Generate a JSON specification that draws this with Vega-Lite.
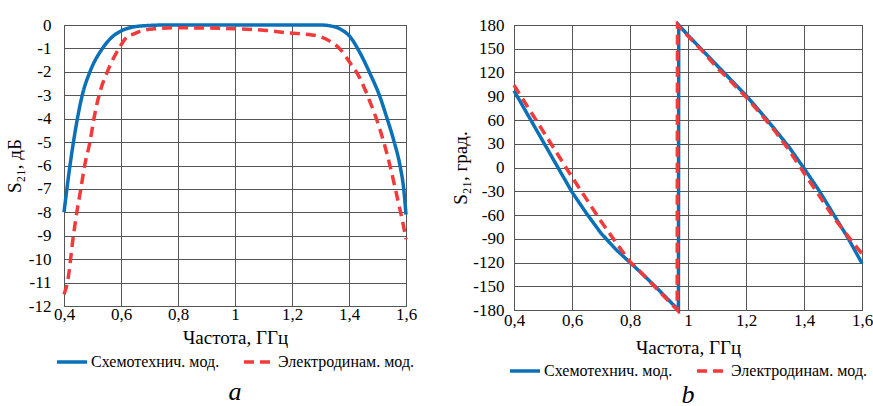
{
  "$schema": "https://vega.github.io/schema/vega-lite/v6.json",
  "background": "white",
  "padding": {"left": 4, "top": 15, "right": 0, "bottom": 0},
  "config": {
    "font": "Liberation Serif, Times New Roman, DejaVu Serif, serif",
    "view": {"stroke": "#555", "strokeWidth": 1},
    "axis": {"gridColor": "#555", "gridOpacity": 1, "domainColor": "#555", "ticks": false, "tickSize": 0, "labelFlush": false, "labelColor": "#000", "titleColor": "#000", "labelFontSize": 17, "titleFontSize": 19, "titleFontWeight": "normal", "labelFont": "Liberation Serif, Times New Roman, DejaVu Serif, serif", "titleFont": "Liberation Serif, Times New Roman, DejaVu Serif, serif"},
    "legend": {"orient": "bottom", "direction": "horizontal", "title": null, "offset": 0, "padding": 0, "labelFontSize": 16, "labelColor": "#000", "labelFont": "Liberation Serif, Times New Roman, DejaVu Serif, serif", "symbolType": "stroke", "symbolStrokeWidth": 3.5, "symbolSize": 900, "columnPadding": 17, "labelOffset": 2, "layout": {"bottom": {"anchor": "middle"}}},
    "title": {"orient": "bottom", "fontSize": 26, "offset": 7, "fontStyle": "italic", "fontWeight": "normal", "font": "Liberation Serif, Times New Roman, DejaVu Serif, serif", "color": "#000"}
  },
  "datasets": {
    "mag": [
      {"s": "Схемотехнич. мод.", "f": 0.40, "v": -8.0},
      {"s": "Схемотехнич. мод.", "f": 0.421, "v": -6.0},
      {"s": "Схемотехнич. мод.", "f": 0.447, "v": -4.0},
      {"s": "Схемотехнич. мод.", "f": 0.464, "v": -3.0},
      {"s": "Схемотехнич. мод.", "f": 0.491, "v": -2.0},
      {"s": "Схемотехнич. мод.", "f": 0.535, "v": -1.0},
      {"s": "Схемотехнич. мод.", "f": 0.57, "v": -0.5},
      {"s": "Схемотехнич. мод.", "f": 0.61, "v": -0.2},
      {"s": "Схемотехнич. мод.", "f": 0.65, "v": -0.07},
      {"s": "Схемотехнич. мод.", "f": 0.70, "v": -0.02},
      {"s": "Схемотехнич. мод.", "f": 0.75, "v": 0},
      {"s": "Схемотехнич. мод.", "f": 1.30, "v": 0},
      {"s": "Схемотехнич. мод.", "f": 1.35, "v": -0.08},
      {"s": "Схемотехнич. мод.", "f": 1.38, "v": -0.25},
      {"s": "Схемотехнич. мод.", "f": 1.40, "v": -0.45},
      {"s": "Схемотехнич. мод.", "f": 1.439, "v": -1.2},
      {"s": "Схемотехнич. мод.", "f": 1.474, "v": -2.08},
      {"s": "Схемотехнич. мод.", "f": 1.509, "v": -3.08},
      {"s": "Схемотехнич. мод.", "f": 1.532, "v": -3.93},
      {"s": "Схемотехнич. мод.", "f": 1.557, "v": -4.93},
      {"s": "Схемотехнич. мод.", "f": 1.58, "v": -6.07},
      {"s": "Схемотехнич. мод.", "f": 1.592, "v": -7.0},
      {"s": "Схемотехнич. мод.", "f": 1.60, "v": -8.1},
      {"s": "Электродинам. мод.", "f": 0.40, "v": -11.5},
      {"s": "Электродинам. мод.", "f": 0.412, "v": -11.0},
      {"s": "Электродинам. мод.", "f": 0.433, "v": -9.0},
      {"s": "Электродинам. мод.", "f": 0.445, "v": -8.0},
      {"s": "Электродинам. мод.", "f": 0.459, "v": -7.0},
      {"s": "Электродинам. мод.", "f": 0.4725, "v": -6.0},
      {"s": "Электродинам. мод.", "f": 0.491, "v": -5.0},
      {"s": "Электродинам. мод.", "f": 0.505, "v": -4.0},
      {"s": "Электродинам. мод.", "f": 0.523, "v": -3.0},
      {"s": "Электродинам. мод.", "f": 0.552, "v": -2.0},
      {"s": "Электродинам. мод.", "f": 0.593, "v": -1.0},
      {"s": "Электродинам. мод.", "f": 0.622, "v": -0.5},
      {"s": "Электродинам. мод.", "f": 0.645, "v": -0.38},
      {"s": "Электродинам. мод.", "f": 0.67, "v": -0.25},
      {"s": "Электродинам. мод.", "f": 0.72, "v": -0.16},
      {"s": "Электродинам. мод.", "f": 0.80, "v": -0.12},
      {"s": "Электродинам. мод.", "f": 0.90, "v": -0.13},
      {"s": "Электродинам. мод.", "f": 1.00, "v": -0.16},
      {"s": "Электродинам. мод.", "f": 1.10, "v": -0.22},
      {"s": "Электродинам. мод.", "f": 1.19, "v": -0.34},
      {"s": "Электродинам. мод.", "f": 1.26, "v": -0.41},
      {"s": "Электродинам. мод.", "f": 1.30, "v": -0.5},
      {"s": "Электродинам. мод.", "f": 1.334, "v": -0.7},
      {"s": "Электродинам. мод.", "f": 1.37, "v": -1.05},
      {"s": "Электродинам. мод.", "f": 1.40, "v": -1.55},
      {"s": "Электродинам. мод.", "f": 1.439, "v": -2.29},
      {"s": "Электродинам. мод.", "f": 1.474, "v": -3.29},
      {"s": "Электродинам. мод.", "f": 1.498, "v": -4.07},
      {"s": "Электродинам. мод.", "f": 1.522, "v": -5.0},
      {"s": "Электродинам. мод.", "f": 1.545, "v": -6.07},
      {"s": "Электродинам. мод.", "f": 1.569, "v": -7.35},
      {"s": "Электродинам. мод.", "f": 1.592, "v": -8.63},
      {"s": "Электродинам. мод.", "f": 1.60, "v": -9.15}
    ],
    "phase": [
      {"s": "Схемотехнич. мод.", "f": 0.40, "v": 97},
      {"s": "Схемотехнич. мод.", "f": 0.45, "v": 65},
      {"s": "Схемотехнич. мод.", "f": 0.50, "v": 33},
      {"s": "Схемотехнич. мод.", "f": 0.55, "v": 1},
      {"s": "Схемотехнич. мод.", "f": 0.60, "v": -31},
      {"s": "Схемотехнич. мод.", "f": 0.65, "v": -58},
      {"s": "Схемотехнич. мод.", "f": 0.70, "v": -83},
      {"s": "Схемотехнич. мод.", "f": 0.75, "v": -103},
      {"s": "Схемотехнич. мод.", "f": 0.80, "v": -120},
      {"s": "Схемотехнич. мод.", "f": 0.85, "v": -137},
      {"s": "Схемотехнич. мод.", "f": 0.90, "v": -155},
      {"s": "Схемотехнич. мод.", "f": 0.967, "v": -180},
      {"s": "Схемотехнич. мод.", "f": 0.968, "v": 180},
      {"s": "Схемотехнич. мод.", "f": 1.00, "v": 167},
      {"s": "Схемотехнич. мод.", "f": 1.05, "v": 148},
      {"s": "Схемотехнич. мод.", "f": 1.10, "v": 129},
      {"s": "Схемотехнич. мод.", "f": 1.15, "v": 110},
      {"s": "Схемотехнич. мод.", "f": 1.20, "v": 91},
      {"s": "Схемотехнич. мод.", "f": 1.25, "v": 70},
      {"s": "Схемотехнич. мод.", "f": 1.30, "v": 48},
      {"s": "Схемотехнич. мод.", "f": 1.35, "v": 25},
      {"s": "Схемотехнич. мод.", "f": 1.40, "v": -1},
      {"s": "Схемотехнич. мод.", "f": 1.45, "v": -28},
      {"s": "Схемотехнич. мод.", "f": 1.50, "v": -58},
      {"s": "Схемотехнич. мод.", "f": 1.55, "v": -88},
      {"s": "Схемотехнич. мод.", "f": 1.60, "v": -121},
      {"s": "Электродинам. мод.", "f": 0.40, "v": 104},
      {"s": "Электродинам. мод.", "f": 0.45, "v": 75},
      {"s": "Электродинам. мод.", "f": 0.50, "v": 46},
      {"s": "Электродинам. мод.", "f": 0.55, "v": 17},
      {"s": "Электродинам. мод.", "f": 0.60, "v": -12},
      {"s": "Электродинам. мод.", "f": 0.65, "v": -40},
      {"s": "Электродинам. мод.", "f": 0.70, "v": -68},
      {"s": "Электродинам. мод.", "f": 0.75, "v": -94},
      {"s": "Электродинам. мод.", "f": 0.80, "v": -119},
      {"s": "Электродинам. мод.", "f": 0.85, "v": -137},
      {"s": "Электродинам. мод.", "f": 0.90, "v": -156},
      {"s": "Электродинам. мод.", "f": 0.9627, "v": -180},
      {"s": "Электродинам. мод.", "f": 0.9637, "v": 180},
      {"s": "Электродинам. мод.", "f": 1.00, "v": 166},
      {"s": "Электродинам. мод.", "f": 1.05, "v": 147},
      {"s": "Электродинам. мод.", "f": 1.10, "v": 126},
      {"s": "Электродинам. мод.", "f": 1.15, "v": 108},
      {"s": "Электродинам. мод.", "f": 1.20, "v": 89},
      {"s": "Электродинам. мод.", "f": 1.25, "v": 68},
      {"s": "Электродинам. мод.", "f": 1.30, "v": 46},
      {"s": "Электродинам. мод.", "f": 1.35, "v": 21},
      {"s": "Электродинам. мод.", "f": 1.40, "v": -7},
      {"s": "Электродинам. мод.", "f": 1.45, "v": -34},
      {"s": "Электродинам. мод.", "f": 1.50, "v": -62},
      {"s": "Электродинам. мод.", "f": 1.55, "v": -86},
      {"s": "Электродинам. мод.", "f": 1.60, "v": -109}
    ]
  },
  "hconcat": [
    {
      "width": 342,
      "height": 281,
      "data": {"name": "mag"},
      "title": {"text": "a", "offset": 9},
      "mark": {"type": "line", "interpolate": "monotone", "strokeWidth": 3.5},
      "encoding": {
        "x": {"field": "f", "type": "quantitative", "scale": {"domain": [0.4, 1.6], "nice": false, "zero": false},
          "axis": {"values": [0.4, 0.6, 0.8, 1, 1.2, 1.4, 1.6], "title": "Частота, ГГц", "labelExpr": "replace(datum.value + '', '.', ',')", "labelPadding": 0, "titlePadding": 6}},
        "y": {"field": "v", "type": "quantitative", "scale": {"domain": [-12, 0], "nice": false},
          "axis": {"values": [0, -1, -2, -3, -4, -5, -6, -7, -8, -9, -10, -11, -12], "title": "S₂₁, дБ", "labelExpr": "datum.value < 0 ? '-' + (-datum.value) : '' + datum.value", "labelPadding": 13, "titlePadding": 4}},
        "color": {"field": "s", "type": "nominal", "scale": {"domain": ["Схемотехнич. мод.", "Электродинам. мод."], "range": ["#0a71b9", "#f23a3a"]}, "legend": {"offset": -2}},
        "strokeDash": {"field": "s", "type": "nominal", "scale": {"domain": ["Схемотехнич. мод.", "Электродинам. мод."], "range": [[1, 0], [10, 6]]}, "legend": {"offset": -2}}
      }
    },
    {
      "width": 348,
      "height": 285,
      "data": {"name": "phase"},
      "title": {"text": "b", "offset": 3},
      "mark": {"type": "line", "interpolate": "linear", "strokeWidth": 3.5},
      "encoding": {
        "x": {"field": "f", "type": "quantitative", "scale": {"domain": [0.4, 1.6], "nice": false, "zero": false},
          "axis": {"values": [0.4, 0.6, 0.8, 1, 1.2, 1.4, 1.6], "title": "Частота, ГГц", "labelExpr": "replace(datum.value + '', '.', ',')", "labelPadding": 2, "titlePadding": 10}},
        "y": {"field": "v", "type": "quantitative", "scale": {"domain": [-180, 180], "nice": false},
          "axis": {"values": [180, 150, 120, 90, 60, 30, 0, -30, -60, -90, -120, -150, -180], "title": "S₂₁, град.", "labelExpr": "datum.value < 0 ? '-' + (-datum.value) : '' + datum.value", "labelPadding": 10, "titlePadding": 2}},
        "color": {"field": "s", "type": "nominal", "scale": {"domain": ["Схемотехнич. мод.", "Электродинам. мод."], "range": ["#0a71b9", "#f23a3a"]}, "legend": {"offset": -3}},
        "strokeDash": {"field": "s", "type": "nominal", "scale": {"domain": ["Схемотехнич. мод.", "Электродинам. мод."], "range": [[1, 0], [10, 6]]}, "legend": {"offset": -3}}
      }
    }
  ],
  "spacing": 33,
  "resolve": {"scale": {"color": "independent", "strokeDash": "independent"}, "legend": {"color": "independent", "strokeDash": "independent"}}
}
